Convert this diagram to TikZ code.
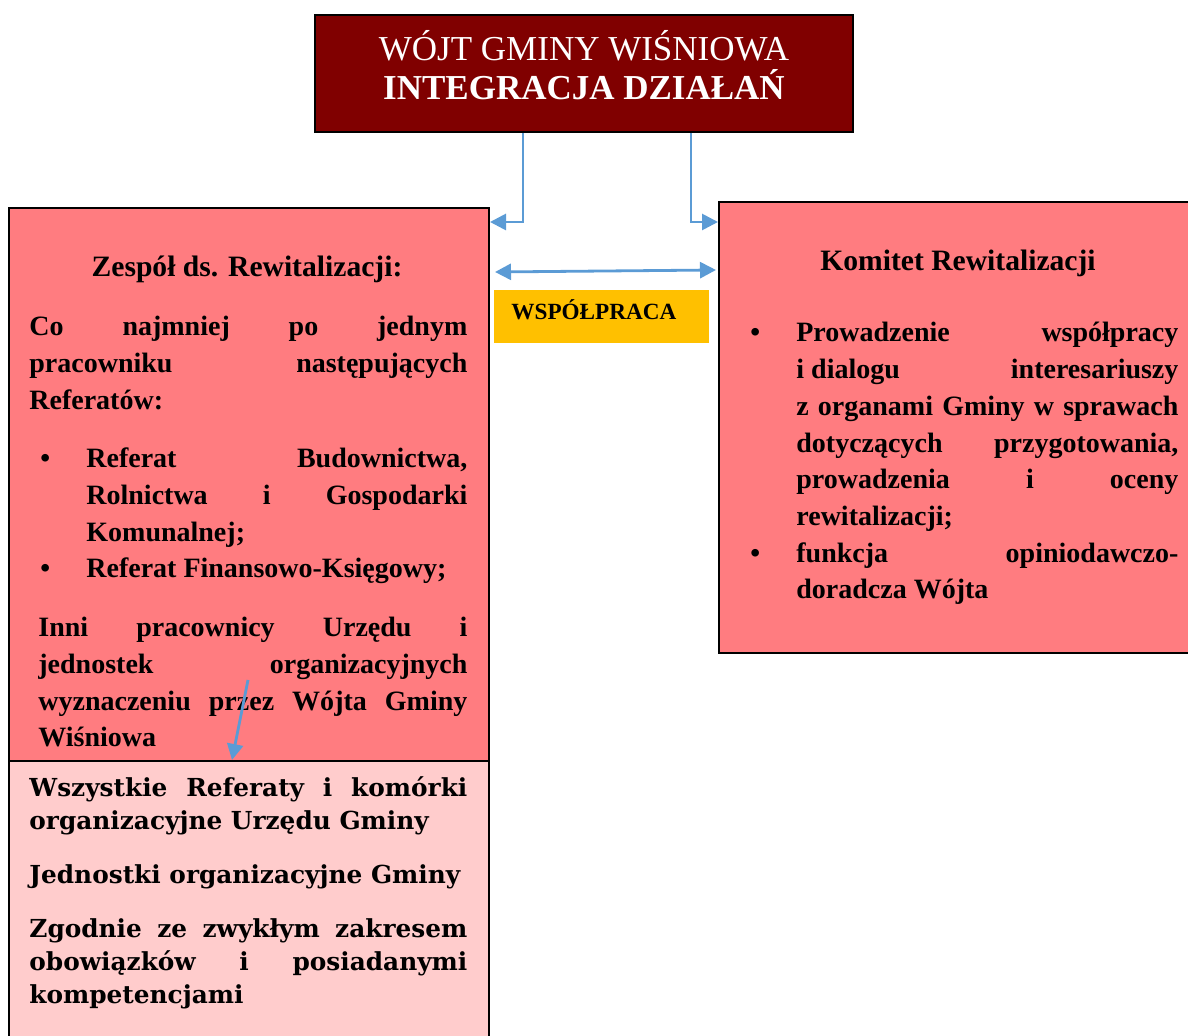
\documentclass[tikz,border=0pt]{standalone}
\usepackage{fontspec}
\setmainfont{Liberation Serif}
\newfontfamily\ciezka{DejaVu Serif}
\usetikzlibrary{arrows.meta}

\definecolor{bordo}{RGB}{128,0,0}
\definecolor{losos}{RGB}{255,124,128}
\definecolor{roz}{RGB}{255,204,204}
\definecolor{zloty}{RGB}{255,192,0}
\definecolor{niebieski}{RGB}{91,155,213}

\tolerance=10000
\hyphenpenalty=10000

\newlength\wciecie
\newlength\kropka
\newcommand{\punkt}[1]{\ifvmode\noindent\fi\hangindent=\wciecie\hangafter=1\hbox to\wciecie{\hskip\kropka\textbullet\hfil}\ignorespaces#1\par}

\tikzset{%
	ramka/.style={
		draw=black,
		line width=1pt,
		inner sep=0pt,
		anchor=north west
	},
	opis/.style={
		inner sep=0pt,
		anchor=base west,
		align=justify,
		font=\fontsize{14}{18.3}\selectfont\bfseries
	},
	tytul/.style={
		inner sep=0pt,
		anchor=base,
		font=\fontsize{14.8}{18}\selectfont\bfseries
	},
	strzalka/.style={
		draw=niebieski,
		line width=1.4pt,
		-{Triangle[length=8pt,width=8pt]}
	},
}

\begin{document}
\begin{tikzpicture}[x=0.5pt, y=-0.5pt]
\useasboundingbox (0,0) rectangle (1188,1036);
\clip (0,0) rectangle (1188,1036);

% boxes
\node [ramka, fill=bordo, minimum width=269pt, minimum height=58.5pt, align=center, text=white, font=\fontsize{17.5}{19.5}\selectfont] (wojt) at (314,14)
{W\'OJT GMINY WI\'SNIOWA\\ \textbf{INTEGRACJA DZIA\L{}A\'N}\rule[-9pt]{0pt}{9pt}};

\node [ramka, fill=losos, minimum width=240pt, minimum height=276.5pt] (zespol) at (8,207) {};
\node [ramka, fill=roz, minimum width=240pt, minimum height=150pt] (referaty) at (8,760) {};
\node [ramka, fill=losos, minimum width=250pt, minimum height=225.5pt] (komitet) at (718,201) {};

\node [fill=zloty, inner sep=0pt, anchor=north west, minimum width=107.5pt, minimum height=26.5pt, font=\fontsize{11.6}{13}\selectfont\bfseries] (wspolpraca) at (494,290) {WSPÓŁPRACA\hspace{8pt}\rule[-7pt]{0pt}{7pt}};

% left column
\node [tytul] (zespol-tytul) at (247,277) {Zespół ds. Rewitalizacji:};

\node [opis, text width=219pt] (sklad) at (29,336)
{Co najmniej po jednym\linebreak pracowniku następujących\linebreak Referatów:};

\node [opis, text width=219pt] (sklad-lista) at (29,468)
{\setlength\wciecie{28.5pt}\setlength\kropka{5.5pt}%
\punkt{Referat Budownictwa,\linebreak Rolnictwa i Gospodarki\linebreak Komunalnej;}%
\punkt{Referat Finansowo-Księgowy;}};

\node [opis, text width=214.5pt] (inni) at (38,637)
{Inni pracownicy Urzędu i\linebreak jednostek organizacyjnych\linebreak wyznaczeniu przez Wójta Gminy\linebreak Wiśniowa};

\node [opis, text width=219pt, font=\ciezka\fontsize{12.4}{16.5}\selectfont\bfseries] (referaty-tekst) at (29,796)
{Wszystkie Referaty i komórki\linebreak organizacyjne Urzędu Gminy\par\vspace{10.5pt}%
\noindent Jednostki organizacyjne Gminy\par\vspace{10.5pt}%
\noindent Zgodnie ze zwykłym zakresem\linebreak obowiązków i posiadanymi\linebreak kompetencjami};

% right column
\node [tytul] (komitet-tytul) at (958,271) {Komitet Rewitalizacji};

\node [opis, text width=214pt, font=\fontsize{14}{18.35}\selectfont\bfseries] (komitet-lista) at (750,342)
{\setlength\wciecie{23pt}\setlength\kropka{0pt}%
\punkt{Prowadzenie współpracy\linebreak \hbox{i dialogu} interesariuszy\linebreak z organami Gminy w sprawach\linebreak dotyczących przygotowania,\linebreak prowadzenia i oceny\linebreak rewitalizacji;}%
\punkt{funkcja opiniodawczo-\linebreak doradcza Wójta}};

% arrows
\draw [strzalka] ([xshift=-30.5pt]wojt.south) |- ([yshift=-7.5pt]zespol.north east);
\draw [strzalka] ([xshift=53.5pt]wojt.south) |- ([yshift=-10.5pt]komitet.north west);
\draw [strzalka, {Triangle[length=8pt,width=8pt]}-{Triangle[length=8pt,width=8pt]}] ([xshift=2.5pt,yshift=-32.5pt]zespol.north east) -- ([xshift=-1pt,yshift=-34.5pt]komitet.north west);
\draw [strzalka] ([xshift=-0.5pt,yshift=40pt]referaty.north) -- ([xshift=-8.5pt]referaty.north);

\end{tikzpicture}
\end{document}
